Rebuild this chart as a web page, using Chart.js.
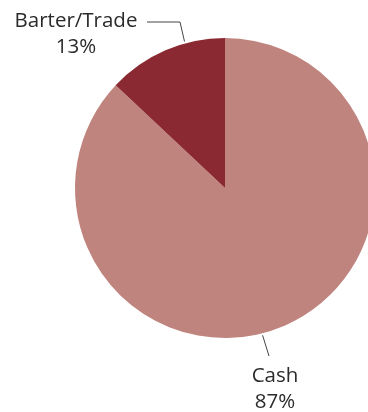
<!DOCTYPE html>
<html>
<head>
<meta charset="utf-8">
<script src="https://cdn.jsdelivr.net/npm/chart.js@4/dist/chart.umd.min.js"></script>
<style>
  html, body { margin: 0; padding: 0; background: #fff; overflow: hidden; }
  #wrap { position: absolute; left: 0; top: 0; width: 450px; height: 412px; }
</style>
</head>
<body>
<div id="wrap"><canvas id="pieChart"></canvas></div>
<script>
// Payment method split
const categories = ['Cash', 'Barter/Trade'];
const shares = [87, 13];
const sliceColors = ['#c0847e', '#8a2931'];

// label placement: text centre + first baseline, leader line points (anchor on the arc given as a fraction of the slice)
const callouts = [
  { x: 275, y: 382, leader: [[269, 356]], frac: 0.529 },
  { x: 76, y: 27, leader: [[147, 22], [180, 22]], frac: 0.67 }
];

const calloutPlugin = {
  id: 'callouts',
  afterDraw(chart) {
    const ctx = chart.ctx;
    const arcs = chart.getDatasetMeta(0).data;
    ctx.save();
    arcs.forEach((arc, i) => {
      const c = callouts[i];
      const p = arc.getProps(['x', 'y', 'startAngle', 'endAngle', 'outerRadius'], true);
      const a = p.startAngle + c.frac * (p.endAngle - p.startAngle);
      const ax = p.x + Math.cos(a) * (p.outerRadius + 2);
      const ay = p.y + Math.sin(a) * (p.outerRadius + 2);

      ctx.strokeStyle = '#444';
      ctx.lineWidth = 1;
      ctx.beginPath();
      ctx.moveTo(ax, ay);
      for (let k = c.leader.length - 1; k >= 0; k--) ctx.lineTo(c.leader[k][0], c.leader[k][1]);
      ctx.stroke();

      ctx.fillStyle = '#2b2b2b';
      ctx.font = '20.5px "Open Sans"';
      ctx.textAlign = 'center';
      ctx.textBaseline = 'alphabetic';
      ctx.fillText(categories[i], c.x, c.y);
      ctx.fillText(shares[i] + '%', c.x, c.y + 26);
    });
    ctx.restore();
  }
};

new Chart(document.getElementById('pieChart'), {
  type: 'pie',
  data: {
    labels: categories,
    datasets: [{
      data: shares,
      backgroundColor: sliceColors,
      borderWidth: 0
    }]
  },
  options: {
    responsive: true,
    maintainAspectRatio: false,
    animation: false,
    layout: { padding: { left: 75, right: 75, top: 38, bottom: 74 } },
    plugins: {
      legend: { display: false },
      tooltip: { enabled: false }
    }
  },
  plugins: [calloutPlugin]
});
</script>
</body>
</html>
